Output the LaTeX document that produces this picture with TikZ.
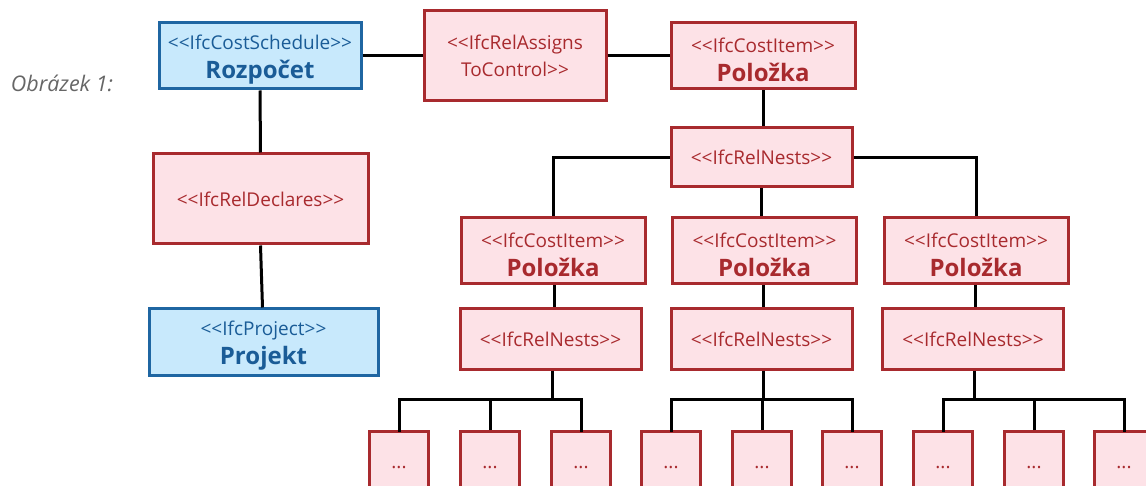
\documentclass[tikz,border=0pt]{standalone}
\usepackage{fontspec}
\setmainfont{Open Sans}
\definecolor{redline}{HTML}{A82A2E}
\definecolor{redfill}{HTML}{FDE2E7}
\definecolor{blueline}{HTML}{1F66A2}
\definecolor{bluefill}{HTML}{C8E9FC}
\definecolor{bluetext}{HTML}{1A5C97}
\definecolor{captiongray}{HTML}{666666}
\tikzset{
  box/.style={rectangle, line width=3pt, inner sep=0pt, align=center,
    font=\fontsize{19}{27}\selectfont},
  redbox/.style={box, draw=redline, fill=redfill, text=redline},
  bluebox/.style={box, draw=blueline, fill=bluefill, text=bluetext},
  conn/.style={line width=3pt, black},
}
% stereotype line (guillemets written as two separate < or > signs) above a bold name
\newcommand{\lt}{<{}<}
\newcommand{\gt}{>{}>}
\newcommand{\ent}[2]{\rule{0pt}{22pt}\lt#1\gt\\[2pt]{\fontsize{24}{28}\selectfont\bfseries #2}}
\begin{document}
\begin{tikzpicture}[x=1pt, y=-1pt]
\useasboundingbox (0,0) rectangle (1146,486);

% caption
\node[text=captiongray, font=\fontsize{21.5}{24}\selectfont\itshape] (cap) at (62,83) {Obrázek 1:};

% schedule side
\node[bluebox, minimum width=202, minimum height=66] (sched) at (260,56) {\ent{IfcCostSchedule}{Rozpočet}};
\node[redbox, minimum width=215, minimum height=90] (decl) at (260.5,199) {\lt IfcRelDeclares\gt};
\node[bluebox, minimum width=229, minimum height=66] (proj) at (263.5,342) {\ent{IfcProject}{Projekt}};

% assignment and root item
\node[redbox, minimum width=182, minimum height=90] (assign) at (515,56) {\lt IfcRelAssigns\\ToControl\gt};
\node[redbox, minimum width=184, minimum height=66] (item0) at (763,56) {\ent{IfcCostItem}{Položka}};
\node[redbox, minimum width=181, minimum height=59] (nest0) at (761.5,157.5) {\lt IfcRelNests\gt};

% second level items and their nests
\foreach \i/\cx/\nx in {1/553/550.5, 2/764.5/761.5, 3/976/973} {
  \node[redbox, minimum width=184, minimum height=66] (item\i) at (\cx,251) {\ent{IfcCostItem}{Položka}};
  \node[redbox, minimum width=181, minimum height=60] (nest\i) at (\nx,339) {\lt IfcRelNests\gt};
}

% leaf items
\foreach \k/\lx in {1/399, 2/490, 3/581, 4/671, 5/762, 6/852, 7/943, 8/1034, 9/1124} {
  \node[redbox, minimum width=59, minimum height=78, anchor=north] (leaf\k) at (\lx,430) {};
  \node[text=redline, font=\fontsize{19}{20}\selectfont] (dots\k) at (\lx,468) {...};
}

% connectors
\draw[conn] (sched.east) -- (assign.west);
\draw[conn] (assign.east) -- (item0.west);
\draw[conn] (sched.south) -- (decl.north);
\draw[conn] (decl.south) -- ([xshift=-1pt]proj.north);
\draw[conn] (item0.south) -- (item0.south |- nest0.north);
\draw[conn] (nest0.west) -| (item1.north);
\draw[conn] (nest0.east) -| (item3.north);
\draw[conn] (nest0.south) -- (item2.north -| nest0.south);
\draw[conn] ([xshift=1.5pt]item1.south) -- ([xshift=1.5pt]item1.south |- nest1.north);
\draw[conn] ([xshift=-1.5pt]item2.south) -- ([xshift=-1.5pt]item2.south |- nest2.north);
\draw[conn] ([xshift=-1pt]item3.south) -- ([xshift=-1pt]item3.south |- nest3.north);

% fan-out from each nest to its three leaves
\foreach \n/\a/\b/\c in {1/1/2/3, 2/4/5/6, 3/7/8/9} {
  \coordinate (bus\n) at ([yshift=31pt]leaf\b.north);
  \draw[conn] ([xshift=1.5pt]nest\n.south) -- ([xshift=1.5pt]nest\n.south |- bus\n);
  \draw[conn, line cap=rect] (leaf\a.north) -- (leaf\a.north |- bus\n) -| (leaf\c.north);
  \draw[conn] (leaf\b.north) -- (bus\n);
}
\end{tikzpicture}
\end{document}
